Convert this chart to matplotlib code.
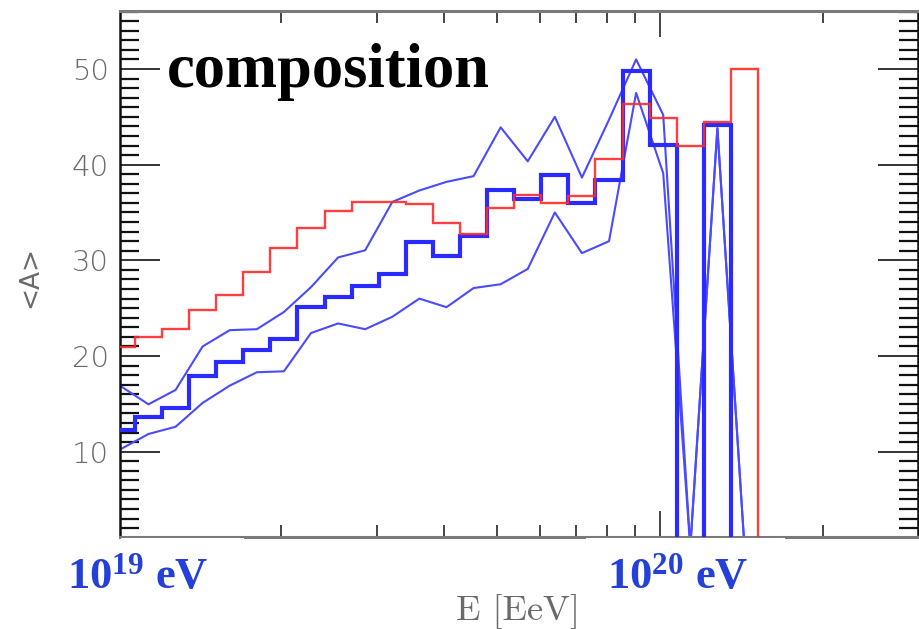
import numpy as np
import matplotlib
matplotlib.use("Agg")
import matplotlib.pyplot as plt
from matplotlib.ticker import FixedLocator, NullFormatter, FormatStrFormatter
from matplotlib.patches import Rectangle

# ---- data (log10 of E/eV bin edges, <A> per bin) ----
log_edges = [18.981, 19.031, 19.081, 19.131, 19.181, 19.231, 19.281, 19.331,
             19.381, 19.431, 19.481, 19.531, 19.581, 19.631, 19.681, 19.731,
             19.781, 19.831, 19.881, 19.931, 19.981, 20.031, 20.081, 20.131,
             20.181, 20.231]
mean_A = [12.3, 13.6, 14.6, 17.9, 19.4, 20.6, 21.8, 25.1, 26.2, 27.3,
          28.6, 31.9, 30.4, 32.5, 37.35, 36.4, 38.9, 36.0, 38.35, 49.75,
          42.1, 0, 44.1, 0, 0]
model_A = [20.9, 22.0, 22.8, 24.8, 26.4, 28.8, 31.3, 33.4, 35.2, 36.1,
           36.1, 35.9, 33.9, 32.8, 35.5, 36.8, 36.0, 36.7, 40.6, 46.3,
           44.85, 41.9, 44.5, 50.0, 0]
upper_A = [16.8, 14.95, 16.45, 21.0, 22.7, 22.8, 24.6, 27.2, 30.3, 31.05,
           36.1, 37.3, 38.2, 38.8, 43.9, 40.35, 45.0, 38.65, 44.7, 51.0,
           45.2, 0, 43.8, 0, 0]
lower_A = [10.3, 11.85, 12.6, 15.1, 16.9, 18.3, 18.4, 22.4, 23.4, 22.8,
           24.1, 26.0, 25.1, 27.1, 27.5, 29.1, 35.0, 30.75, 32.0, 47.5,
           39.1, 0, 43.8, 0, 0]
y_major = [10, 20, 30, 40, 50]
x_major = [100]
x_minor = [20, 30, 40, 50, 60, 70, 80, 90, 200]

plt.rcParams['mathtext.fontset'] = 'custom'
plt.rcParams['mathtext.bf'] = 'Liberation Serif:bold'
plt.rcParams['mathtext.rm'] = 'Liberation Serif'

edges_E = 10 ** (np.array(log_edges) - 18.0)          # EeV
centers_E = np.sqrt(edges_E[:-1] * edges_E[1:])

W, H = 920, 629
fig = plt.figure(figsize=(W / 100, H / 100), dpi=100)
ax = fig.add_axes([120 / W, 1 - 537 / H, (918 - 120) / W, (537 - 11) / H])
ax.set_xscale('log')
ax.set_xlim(10.08, 299.4)
ax.set_ylim(1.08, 56.06)

blue_thick = '#2b2bff'
blue_thin = '#4a4aff'
red = '#ff2a2a'

ax.plot(centers_E, upper_A, color=blue_thin, lw=1.5, zorder=2)
ax.plot(centers_E, lower_A, color=blue_thin, lw=1.5, zorder=2)
ax.stairs(mean_A, edges_E, baseline=None, color=blue_thick, lw=3.0, zorder=3)
ax.stairs(model_A, edges_E, baseline=None, color=red, lw=1.7, alpha=0.9, zorder=4)

# ticks
ax.xaxis.set_major_locator(FixedLocator(x_major))
ax.xaxis.set_minor_locator(FixedLocator(x_minor))
ax.xaxis.set_major_formatter(NullFormatter())
ax.xaxis.set_minor_formatter(NullFormatter())
ax.tick_params(axis='x', which='major', direction='in', length=18.5, width=1.4,
               color='#444444', top=True, bottom=True)
ax.tick_params(axis='x', which='minor', direction='in', length=8.5, width=1.4,
               color='#444444', top=True, bottom=True)

ax.yaxis.set_major_locator(FixedLocator(y_major))
ax.yaxis.set_minor_locator(FixedLocator(np.arange(2, 57, 1)))
ax.yaxis.set_major_formatter(FormatStrFormatter('%d'))
ax.tick_params(axis='y', which='major', direction='in', length=29, width=1.4,
               color='#333333', left=True, right=True, labelsize=21,
               labelcolor='#6a6a6a', pad=8)
ax.tick_params(axis='y', which='minor', direction='in', length=14, width=1.6,
               color='#111111', left=True, right=True)
for lbl in ax.get_yticklabels():
    lbl.set_fontweight('light')

for side in ['left', 'right']:
    ax.spines[side].set_color('#111111')
    ax.spines[side].set_linewidth(1.8)
for side in ['top', 'bottom']:
    ax.spines[side].set_color('#7a7a7a')
    ax.spines[side].set_linewidth(2.2)

# labels
fig.text(30 / W, 1 - 277 / H, '<A>', rotation=90, ha='center', va='center',
         fontsize=19, color='#6a6a6a', family='DejaVu Sans')
fig.text(518 / W, 1 - 620 / H, 'E [EeV]', ha='center', va='baseline',
         fontsize=26, color='#6a6a6a', family=['cmr10', 'DejaVu Serif'])

# white patches over the bottom spine (pasted labels)
for x0, x1 in [(121, 244), (586, 785)]:
    fig.patches.append(Rectangle((x0 / W, 1 - 548 / H), (x1 - x0) / W, 10.5 / H,
                                 transform=fig.transFigure, facecolor='white',
                                 edgecolor='none', zorder=5))

fig.text(167 / W, 1 - 87 / H, 'composition', ha='left', va='baseline',
         fontsize=45, fontweight='bold', family='Liberation Serif', color='black',
         zorder=6)
label_color = '#2440d8'
fig.text(67 / W, 1 - 588 / H, r'$\mathbf{10^{19}}$ eV', ha='left', va='baseline',
         fontsize=32, fontweight='bold', family='Liberation Serif',
         color=label_color, zorder=6)
fig.text(607 / W, 1 - 588 / H, r'$\mathbf{10^{20}}$ eV', ha='left', va='baseline',
         fontsize=32, fontweight='bold', family='Liberation Serif',
         color=label_color, zorder=6)

fig.savefig('out.png', dpi=100, facecolor='white')
